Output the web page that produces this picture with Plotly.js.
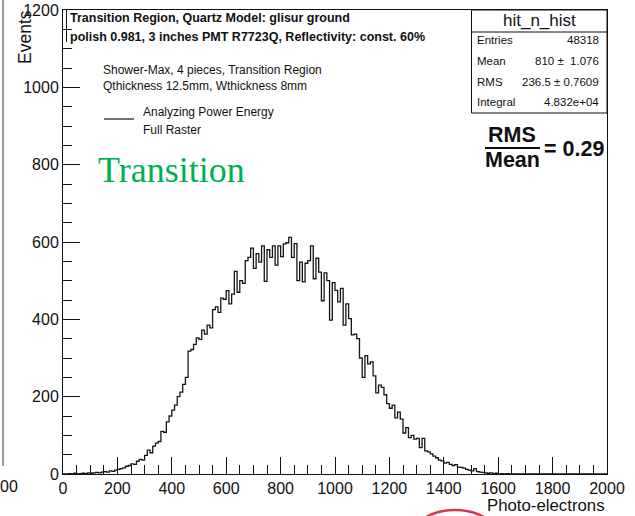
<!DOCTYPE html>
<html>
<head>
<meta charset="utf-8">
<script src="https://cdn.plot.ly/plotly-3.0.1.min.js"></script>
<style>
  html, body { margin: 0; padding: 0; background: #fff; }
  #chart { width: 635px; height: 516px; }
</style>
</head>
<body>
<div id="chart"></div>
<script>
// hit_n_hist: photo-electron spectrum, 200 bins of width 10 from 0 to 2000
const binStart = 0;
const binWidth = 10;
const photoElectronCounts = [
  0, 0, 1, 0, 2, 0, 1, 2, 1, 3,
  2, 3, 4, 3, 5, 6, 5, 8, 7, 10,
  12, 14, 16, 20, 22, 26, 25, 33, 38, 36,
  48, 62, 55, 72, 80, 84, 110, 108, 135, 150,
  165, 178, 200, 212, 232, 250, 318, 322, 335, 352,
  348, 372, 362, 385, 378, 425, 432, 418, 455, 452,
  474, 440, 465, 524, 470, 500, 493, 552, 560, 584,
  532, 570, 548, 590, 498, 580, 560, 590, 540, 590,
  562, 595, 598, 612, 560, 596, 500, 548, 497, 545,
  552, 590, 505, 558, 522, 448, 520, 500, 398, 495,
  475, 445, 480, 385, 440, 402, 360, 362, 350, 300,
  250, 306, 285, 290, 254, 210, 230, 224, 205, 182,
  170, 178, 145, 160, 142, 106, 120, 94, 100, 90,
  92, 68, 92, 60, 57, 52, 46, 42, 36, 34,
  28, 30, 25, 22, 24, 18, 17, 15, 12, 10,
  8, 14, 6, 5, 4, 3, 2, 3, 1, 2,
  0, 1, 0, 1, 0, 0, 0, 0, 0, 0,
  0, 0, 0, 0, 0, 0, 0, 0, 0, 0,
  0, 0, 0, 0, 0, 0, 0, 0, 0, 0,
  0, 0, 0, 0, 0, 0, 0, 0, 0, 0
];

const xTickValues = [0, 200, 400, 600, 800, 1000, 1200, 1400, 1600, 1800, 2000];
const yTickValues = [0, 200, 400, 600, 800, 1000, 1200];

const titleLines = [
  'Transition Region, Quartz Model: glisur ground',
  'polish 0.981, 3 inches PMT R7723Q, Reflectivity: const. 60%'
];
const infoLines = [
  'Shower-Max, 4 pieces, Transition Region',
  'Qthickness 12.5mm, Wthickness 8mm'
];
const legendLines = ['Analyzing Power Energy', 'Full Raster'];

const statsName = 'hit_n_hist';
const statsLabels = ['Entries', 'Mean', 'RMS', 'Integral'];
const statsValues = ['48318', '810 \u00b1  1.076', '236.5 \u00b1 0.7609', '4.832e+04'];
const rmsOverMean = '0.29';

// step outline: bin edges with the last count repeated for the closing edge
const edges = photoElectronCounts.map((_, i) => binStart + i * binWidth);
edges.push(binStart + photoElectronCounts.length * binWidth);
const stepY = photoElectronCounts.concat([photoElectronCounts[photoElectronCounts.length - 1]]);

// plot frame in page pixels
const L = 63, R = 607, T = 10, B = 474;
const W = 635, H = 516;
const px = x => (x - L) / (R - L);
const py = y => (B - y) / (B - T);

const FONT = 'Liberation Sans, Arial, Helvetica, sans-serif';
const ink = '#111';

function label(text, x, y, opts) {
  return Object.assign({
    xref: 'paper', yref: 'paper', x: px(x), y: py(y),
    text: text, showarrow: false, xanchor: 'left', yanchor: 'middle',
    font: { family: FONT, size: 12, color: ink }
  }, opts || {});
}
function line(x0, y0, x1, y1, color, width) {
  return { type: 'line', xref: 'paper', yref: 'paper',
    x0: px(x0), y0: py(y0), x1: px(x1), y1: py(y1),
    line: { color: color || ink, width: width || 1 } };
}

const annotations = [];
const shapes = [];

// title pave
annotations.push(label('<b>' + titleLines[0] + '</b>', 68, 18, { font: { family: FONT, size: 12.5, color: ink } }));
annotations.push(label('<b>' + titleLines[1] + '</b>', 68, 37, { font: { family: FONT, size: 12.5, color: ink } }));
shapes.push(line(66.5, 10, 66.5, 42));

// description text
annotations.push(label(infoLines[0], 101, 70, { font: { family: FONT, size: 12, color: ink } }));
annotations.push(label(infoLines[1], 101, 86, { font: { family: FONT, size: 12, color: ink } }));

// legend entry
shapes.push(line(104, 119, 134, 119, ink, 1.2));
annotations.push(label(legendLines[0], 141, 112, { font: { family: FONT, size: 12, color: ink } }));
annotations.push(label(legendLines[1], 141, 130, { font: { family: FONT, size: 12, color: ink } }));

// region label
annotations.push(label('Transition', 96, 170, {
  font: { family: 'Liberation Serif, Times New Roman, serif', size: 36, color: '#00b050' } }));

// statistics box
shapes.push({ type: 'rect', xref: 'paper', yref: 'paper',
  x0: px(471.5), y0: py(113), x1: px(R), y1: py(T),
  line: { color: ink, width: 1 }, fillcolor: 'rgba(255,255,255,1)' });
shapes.push(line(471.5, 32, R, 32));
annotations.push(label(statsName, 539, 20, { xanchor: 'center', font: { family: FONT, size: 17, color: ink } }));
statsLabels.forEach((s, i) => {
  const yy = 40 + i * 20.8;
  annotations.push(label(s, 475, yy, { font: { family: FONT, size: 11.5, color: ink } }));
  annotations.push(label(statsValues[i], 601, yy, { xanchor: 'right', font: { family: FONT, size: 11.5, color: ink } }));
});

// RMS / Mean ratio
annotations.push(label('<b>RMS</b>', 512, 135, { xanchor: 'center', font: { family: FONT, size: 21.5, color: ink } }));
annotations.push(label('<b>Mean</b>', 512, 160, { xanchor: 'center', font: { family: FONT, size: 21.5, color: ink } }));
shapes.push(line(485, 148, 540, 148, ink, 2));
annotations.push(label('<b>= ' + rmsOverMean + '</b>', 542, 149, { font: { family: FONT, size: 21.5, color: ink } }));

// axis titles
annotations.push(label('Events', 25, 8, { textangle: -90, xanchor: 'center', yanchor: 'top',
  font: { family: FONT, size: 17.5, color: ink } }));
annotations.push(label('Photo-electrons', R, 506, { xanchor: 'right', font: { family: FONT, size: 16.8, color: ink } }));

// neighbouring panel edge on the left and marker below
shapes.push(line(3, 0, 3, 466, '#333', 1));
annotations.push(label('00', 20, 486, { xanchor: 'right', font: { family: FONT, size: 16, color: ink } }));
shapes.push({ type: 'circle', xref: 'paper', yref: 'paper',
  x0: px(410), x1: px(500), y0: py(510), y1: py(570),
  line: { color: '#d23a4e', width: 2.5 } });

const axisCommon = {
  showgrid: false, zeroline: false,
  showline: true, linecolor: ink, linewidth: 1, mirror: true,
  ticks: 'inside', tickcolor: ink, tickwidth: 1, ticklen: 17,
  tickfont: { family: FONT, size: 16, color: ink },
  minor: { ticks: 'inside', ticklen: 9, tickcolor: ink, tickwidth: 1, dtick: 50, showgrid: false }
};

const layout = {
  width: W, height: H,
  margin: { l: L, r: W - R, t: T, b: H - B, pad: 0 },
  paper_bgcolor: '#fff', plot_bgcolor: '#fff',
  showlegend: false,
  xaxis: Object.assign({}, axisCommon, {
    range: [0, 2000], tickmode: 'array', tickvals: xTickValues,
    ticktext: xTickValues.map(String)
  }),
  yaxis: Object.assign({}, axisCommon, {
    range: [0, 1200], tickmode: 'array', tickvals: yTickValues,
    ticktext: yTickValues.map(String)
  }),
  annotations: annotations,
  shapes: shapes
};

const trace = {
  type: 'scatter', mode: 'lines',
  x: edges, y: stepY,
  line: { shape: 'hv', color: '#151515', width: 1.3 },
  hoverinfo: 'skip', cliponaxis: true
};

Plotly.newPlot('chart', [trace], layout, { displayModeBar: false, staticPlot: true });
</script>
</body>
</html>
